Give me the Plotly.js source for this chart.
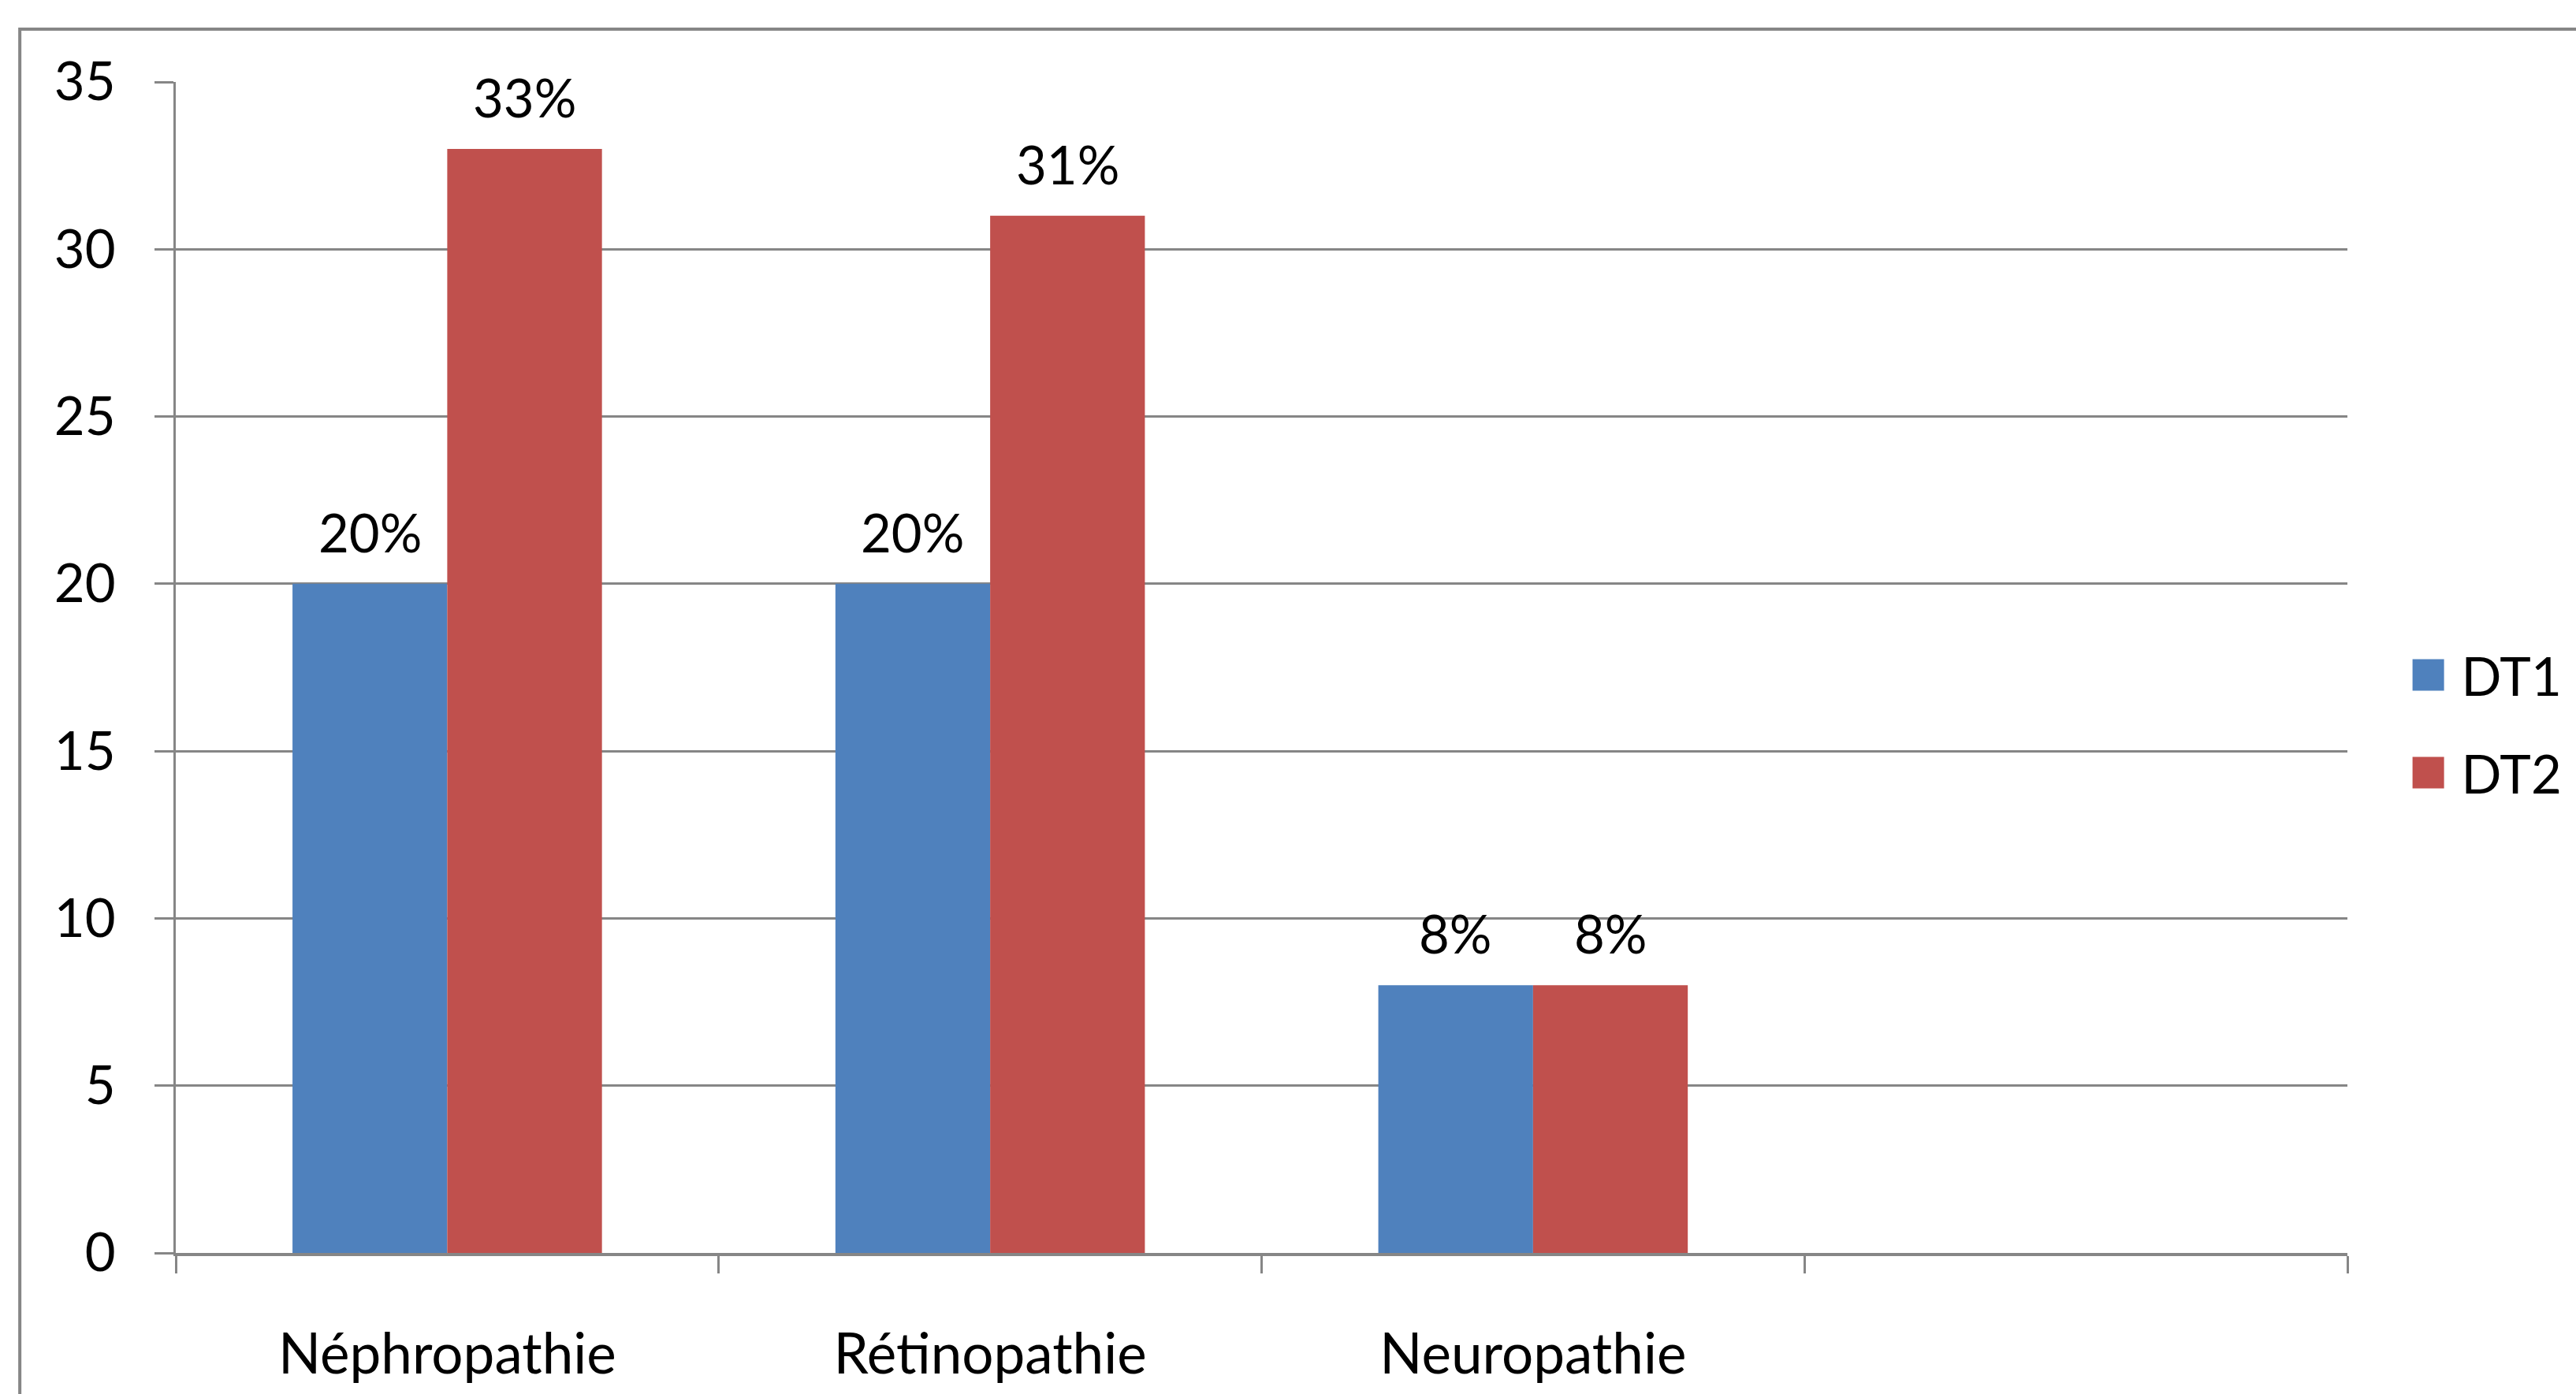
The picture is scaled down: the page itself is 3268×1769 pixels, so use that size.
<!DOCTYPE html>
<html>
<head>
<meta charset="utf-8">
<script src="https://cdn.plot.ly/plotly-3.0.1.min.js"></script>
<style>
  html, body { margin: 0; padding: 0; background: #ffffff; }
  #chart { width: 3268px; height: 1769px; }
  .legend .legendpoints path { d: path("M20,20H-20V-20H20Z"); }
</style>
</head>
<body>
<div id="chart"></div>
<script>
// ---- data ----
const categories = ["Néphropathie", "Rétinopathie", "Neuropathie", " "];
const seriesNames = ["DT1", "DT2"];
const dt1Values = [20, 20, 8, null];
const dt2Values = [33, 31, 8, null];
const yTickValues = [0, 5, 10, 15, 20, 25, 30, 35];

const colors = ["#4F81BD", "#C0504D"];
const gridColor = "#868686";
const fontFamily = "Lato, 'Open Sans', sans-serif";
const fontSize = 67;
const bargap = 0.43;

const allSeries = [dt1Values, dt2Values];
const traces = allSeries.map((vals, i) => ({
  type: "bar",
  name: seriesNames[i],
  x: categories,
  y: vals,
  marker: { color: colors[i], line: { width: 0 } },
  legendgroup: "g" + i,
  hoverinfo: "x+y+name"
}));

// data labels above each bar (positions derived from category index and bar layout)
const nSeries = allSeries.length;
const barW = (1 - bargap) / nSeries;
const annotations = [];
allSeries.forEach((vals, s) => {
  vals.forEach((v, k) => {
    if (v === null) return;
    annotations.push({
      x: k - (1 - bargap) / 2 + barW * (s + 0.5),
      y: v,
      xref: "x", yref: "y",
      text: v + "%",
      showarrow: false,
      yanchor: "bottom",
      yshift: 24,
      font: { family: fontFamily, size: fontSize, color: "#000000" }
    });
  });
});

const layout = {
  width: 3268,
  height: 1769,
  margin: { l: 223, r: 288, t: 104, b: 179, pad: 0 },
  paper_bgcolor: "#ffffff",
  plot_bgcolor: "#ffffff",
  font: { family: fontFamily, size: fontSize, color: "#000000" },
  barmode: "group",
  bargap: bargap,
  bargroupgap: 0,
  showlegend: true,
  legend: {
    x: 1.022, xanchor: "left",
    y: 0.4516, yanchor: "middle",
    bgcolor: "rgba(0,0,0,0)",
    borderwidth: 0,
    itemwidth: 74,
    tracegroupgap: 34,
    font: { family: fontFamily, size: fontSize, color: "#000000" }
  },
  xaxis: {
    type: "category",
    categoryorder: "array",
    categoryarray: categories,
    range: [-0.5, categories.length - 0.5],
    tickson: "boundaries",
    ticks: "outside",
    ticklen: 22,
    tickwidth: 3,
    tickcolor: gridColor,
    showgrid: false,
    showline: true,
    linecolor: gridColor,
    linewidth: 4,
    zeroline: false,
    ticklabelstandoff: 64,
    tickfont: { family: fontFamily, size: 71, color: "#000000" },
    fixedrange: true
  },
  yaxis: {
    range: [0, 35],
    tickvals: yTickValues,
    ticks: "outside",
    ticklen: 24,
    tickwidth: 3,
    tickcolor: gridColor,
    showgrid: true,
    gridcolor: gridColor,
    gridwidth: 3,
    showline: true,
    linecolor: gridColor,
    linewidth: 3,
    zeroline: false,
    ticklabelstandoff: 36,
    tickfont: { family: fontFamily, size: fontSize, color: "#000000" },
    fixedrange: true
  },
  annotations: annotations,
  shapes: [{
    type: "rect",
    xref: "paper", yref: "paper",
    x0: (25 - 223) / 2757, x1: 1.2,
    y0: -0.3, y1: (1590 - 37) / 1486,
    line: { color: gridColor, width: 4 },
    fillcolor: "rgba(0,0,0,0)",
    layer: "below"
  }]
};

Plotly.newPlot("chart", traces, layout, { displayModeBar: false, staticPlot: true });
</script>
</body>
</html>
